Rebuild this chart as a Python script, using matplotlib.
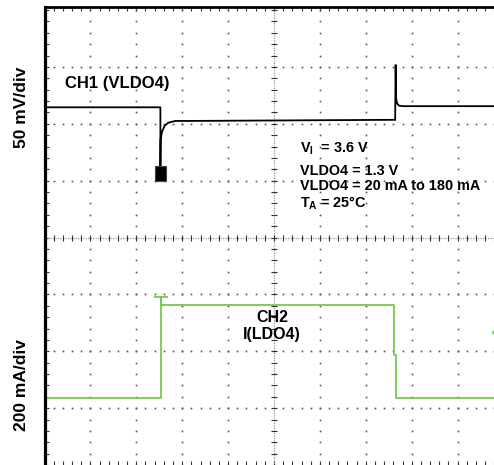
import numpy as np
import matplotlib.pyplot as plt
from matplotlib.patches import Rectangle

plt.rcParams['font.family'] = ['Liberation Sans', 'DejaVu Sans']
plt.rcParams['mathtext.fontset'] = 'custom'
plt.rcParams['mathtext.rm'] = 'Liberation Sans:bold'
plt.rcParams['mathtext.bf'] = 'Liberation Sans:bold'

# scope traces, in screen divisions (x: time div, y: div from centre)
ch1_x = [0.05, 2.52, 2.525, 2.525, 2.53, 2.56, 2.62, 2.70, 2.85, 3.1, 7.64, 7.65, 7.66, 7.68, 7.72, 7.80, 8.0, 10.0]
ch1_y = [2.29, 2.29, 2.28, 1.15, 1.72, 1.86, 1.97, 2.02, 2.05, 2.05, 2.07, 3.04, 2.46, 2.36, 2.32, 2.31, 2.31, 2.31]
ch1_marker = (2.52, 1.125)   # cursor marker at bottom of the dip

ch2_x = [0.05, 2.53, 2.53, 2.53, 7.62, 7.62, 7.66, 7.66, 10.0]
ch2_y = [-2.82, -2.82, -1.04, -1.19, -1.19, -2.07, -2.07, -2.83, -2.83]
ch2_cap = (2.53, -1.04)
ch2_ref = (9.80, -1.66)

green = '#78c850'
grid_c = '#555555'

fig = plt.figure(figsize=(4.94, 4.65), dpi=100)
ax = fig.add_axes([44.5 / 494, 0.0, 459 / 494, 1 - 7.5 / 465])
ax.set_xlim(0, 10)
ax.set_ylim(-3.967, 4.045)

# dotted graticule
minor_x = np.arange(0, 10.01, 0.2)
minor_y = np.arange(-4, 4.01, 0.2)
for gx in range(1, 10):
    if gx == 5:
        continue
    ax.plot([gx] * len(minor_y), minor_y, ls='none', marker='s', ms=1.2, color=grid_c, mew=0)
for gy in range(-3, 4):
    if gy == 0:
        continue
    ax.plot(minor_x, [gy] * len(minor_x), ls='none', marker='s', ms=1.2, color=grid_c, mew=0)

# centre cross with tick marks
ax.plot([5, 5], [-4.1, 4.1], color='#999999', lw=0.9, ls=(0, (1, 1)))
ax.plot([0, 10], [0, 0], color='#999999', lw=0.9, ls=(0, (1, 1)))
ax.plot([5] * len(minor_y), minor_y, ls='none', marker='_', ms=5, color='#333333', mew=0.8)
ax.plot(minor_x, [0] * len(minor_x), ls='none', marker='|', ms=5, color='#333333', mew=0.8)

# traces
ax.plot(ch1_x, ch1_y, color='black', lw=1.3, solid_joinstyle='miter')
mw, mh = 0.233, 0.263
ax.add_patch(Rectangle((ch1_marker[0] - mw / 2, ch1_marker[1] - mh / 2), mw, mh,
                       facecolor='black', edgecolor='#444444', lw=0.8, zorder=4))
ax.plot(ch2_x, ch2_y, color=green, lw=1.3)
ax.plot(*ch2_cap, marker='_', ms=10, mew=1.3, color=green)
ax.plot(*ch2_ref, marker='D', ms=3, color=green, mew=0, clip_on=False)

# frame
for s in ['right', 'bottom']:
    ax.spines[s].set_visible(False)
ax.spines['left'].set_linewidth(2.3)
ax.spines['top'].set_linewidth(2.0)
ax.set_xticks(minor_x)
ax.set_yticks(minor_y)
ax.tick_params(direction='in', length=3, width=0.8, top=True, bottom=True,
               left=True, right=False, labelbottom=False, labelleft=False, color='#333333')

# text
ax.text(0.45, 2.63, 'CH1 (VLDO4)', fontsize=12, fontweight='bold')
ax.text(5.57, 1.56, r'V$_{\mathbf{I}}$  = 3.6 V', fontsize=10.4, fontweight='bold', va='center')
ax.text(5.57, 1.17, 'VLDO4 = 1.3 V', fontsize=10.4, fontweight='bold', va='center')
ax.text(5.57, 0.90, 'VLDO4 = 20 mA to 180 mA', fontsize=10.4, fontweight='bold', va='center')
ax.text(5.57, 0.60, r'T$_{\mathbf{A}}$ = 25°C', fontsize=10.4, fontweight='bold', va='center')
ax.text(4.96, -1.41, 'CH2', fontsize=11.5, fontweight='bold', ha='center', va='center')
ax.text(4.96, -1.70, 'I(LDO4)', fontsize=11.5, fontweight='bold', ha='center', va='center')

fig.text(22 / 494, 1 - 107.5 / 465, '50 mV/div', rotation=90, fontsize=12.5,
         fontweight='bold', ha='center', va='center')
fig.text(22 / 494, 1 - 385 / 465, '200 mA/div', rotation=90, fontsize=12.5,
         fontweight='bold', ha='center', va='center')

fig.savefig('out.png', dpi=100)
